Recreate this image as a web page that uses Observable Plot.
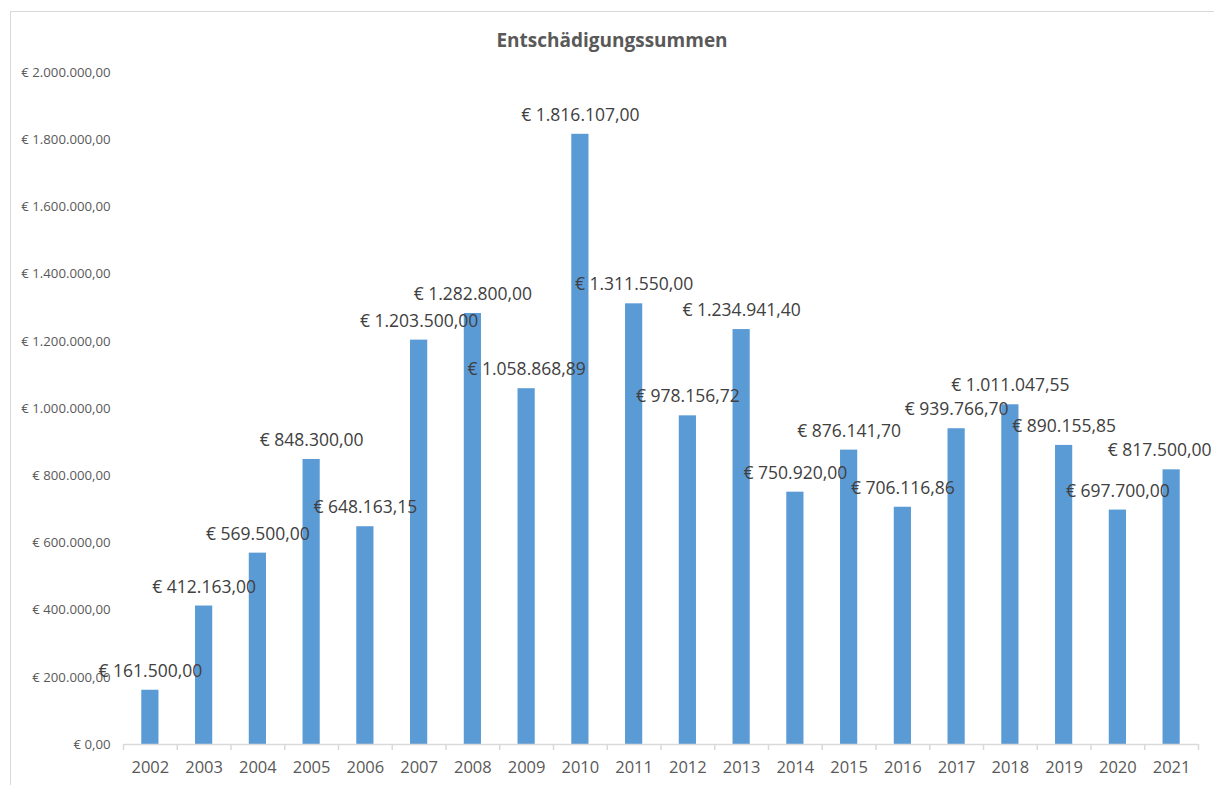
<!DOCTYPE html>
<html>
<head>
<meta charset="utf-8">
<script src="https://cdn.jsdelivr.net/npm/d3@7"></script>
<script src="https://cdn.jsdelivr.net/npm/@observablehq/plot@0.6"></script>
<style>
  html, body { margin: 0; padding: 0; background: #fff; overflow: hidden; width: 1214px; height: 785px; }
  #frame { position: absolute; left: 10px; top: 11px; width: 1300px; height: 900px; border: 1.5px solid #d9d9d9; box-sizing: border-box; }
  #wrap { position: absolute; left: 0; top: 0; width: 1214px; }
  #title { height: 60px; position: relative; font-family: "Open Sans", Lato, sans-serif; font-weight: bold; font-size: 19px; color: #595959; }
  #title span { position: absolute; left: 0; width: 1224px; text-align: center; top: 28px; line-height: 24px; }
</style>
</head>
<body>
<div id="frame"></div>
<div id="wrap">
  <div id="title"><span>Entschädigungssummen</span></div>
  <div id="chart"></div>
</div>
<script>
const years = ["2002","2003","2004","2005","2006","2007","2008","2009","2010","2011","2012","2013","2014","2015","2016","2017","2018","2019","2020","2021"];
const amounts = [161500.00, 412163.00, 569500.00, 848300.00, 648163.15, 1203500.00, 1282800.00, 1058868.89, 1816107.00, 1311550.00, 978156.72, 1234941.40, 750920.00, 876141.70, 706116.86, 939766.70, 1011047.55, 890155.85, 697700.00, 817500.00];
const yTicks = [0, 200000, 400000, 600000, 800000, 1000000, 1200000, 1400000, 1600000, 1800000, 2000000];

const data = years.map((y, i) => ({year: y, value: amounts[i]}));

const locale = d3.formatLocale({decimal: ",", thousands: ".", grouping: [3], currency: ["€ ", ""]});
const fmt = locale.format("$,.2f");

const W = 1214, H = 725;
const mL = 123, mR = 16, mT = 12, mB = 41;
const step = (W - mL - mR) / years.length;
const font = "'Open Sans', Lato, sans-serif";
const labelStyle = {x: "year", y: "value", text: d => fmt(d.value), dy: -19, fontSize: 17.5, fill: "#404040"};

const chart = Plot.plot({
  width: W,
  height: H,
  marginLeft: mL,
  marginRight: mR,
  marginTop: mT,
  marginBottom: mB,
  style: {fontFamily: font, background: "transparent", overflow: "visible"},
  x: {domain: years, paddingInner: 0.68, paddingOuter: 0.34, round: false, label: null},
  y: {domain: [0, 2000000], label: null},
  marks: [
    Plot.axisY({ticks: yTicks, tickFormat: fmt, tickSize: 0, tickPadding: 13, fontSize: 13.2, color: "#595959", label: null}),
    Plot.axisX({tickSize: 0, tickPadding: 17, fontSize: 16.5, color: "#595959", label: null}),
    Plot.barY(data, {x: "year", y: "value", fill: "#5b9bd5"}),
    Plot.ruleY([0], {stroke: "#d9d9d9", strokeWidth: 1.5}),
    Plot.ruleX(data, {x: "year", y1: 0, y2: 0, insetBottom: -6, dx: -step / 2, stroke: "#d9d9d9", strokeWidth: 1.5}),
    Plot.ruleX(data.slice(-1), {x: "year", y1: 0, y2: 0, insetBottom: -6, dx: step / 2, stroke: "#d9d9d9", strokeWidth: 1.5}),
    Plot.text(data.slice(0, -1), labelStyle),
    Plot.text(data.slice(-1), {...labelStyle, textAnchor: "end", dx: step / 2 + 13})
  ]
});
document.getElementById("chart").appendChild(chart);
</script>
</body>
</html>
